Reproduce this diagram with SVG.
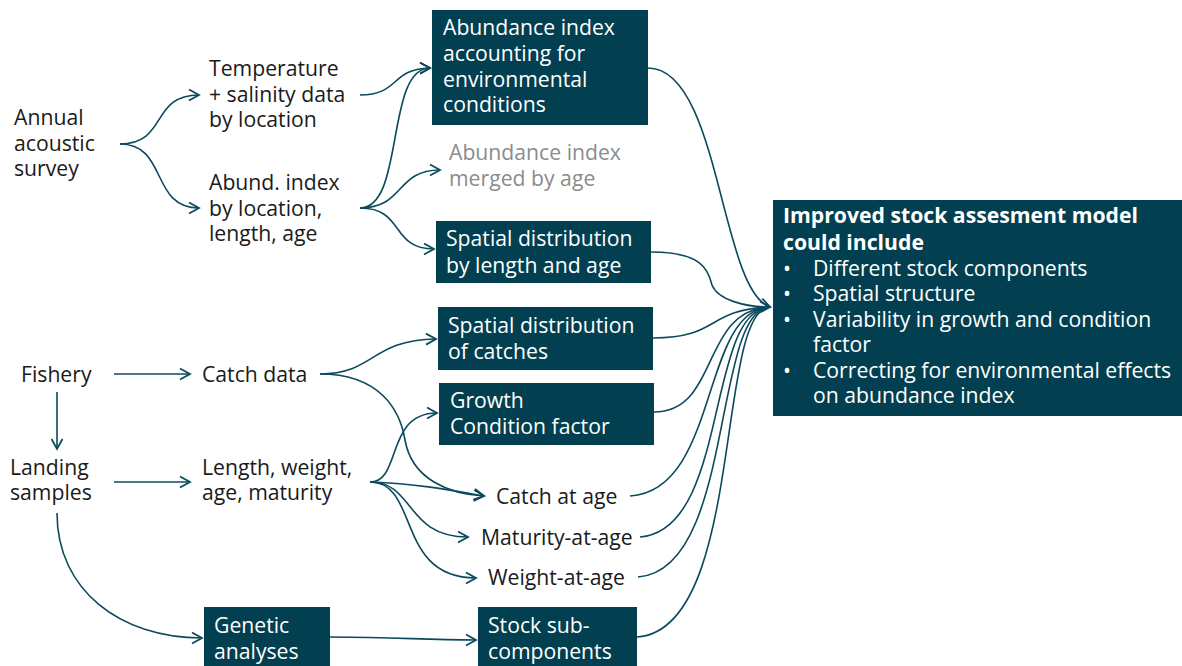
<svg xmlns="http://www.w3.org/2000/svg" width="1182" height="666" viewBox="0 0 1182 666">
<defs>
<style>
text{font-family:"Open Sans","Noto Sans","Liberation Sans",sans-serif;font-size:21.2px;fill:#1a1a1a}
.w{fill:#ffffff}
.g{fill:#8c8c8c}
.b{font-weight:bold}
.box{fill:#023f50}
.c path{fill:none;stroke:#0b4a5c;stroke-width:1.6}
</style>
<marker id="ah" markerUnits="userSpaceOnUse" markerWidth="14" markerHeight="14" refX="11" refY="6" orient="auto" viewBox="0 0 14 12">
<path d="M1,0.5 L11,6 L1,11.5" fill="none" stroke="#0b4a5c" stroke-width="1.8"/>
</marker>
</defs>
<rect width="1182" height="666" fill="#ffffff"/>

<g class="c" id="connectors">
<path d="M120,144 C168,144 150,95 199,95" marker-end="url(#ah)"/>
<path d="M120,144 C168,144 150,208 199,208" marker-end="url(#ah)"/>
<path d="M360,95 C400,95 390,69 430,68" marker-end="url(#ah)"/>
<path d="M360,208 C405,208 385,68 430,68" marker-end="url(#ah)"/>
<path d="M360,208 C405,208 395,170 440,170" marker-end="url(#ah)"/>
<path d="M360,208 C405,208 390,249 434,249" marker-end="url(#ah)"/>
<path d="M114,374 L190,374" marker-end="url(#ah)"/>
<path d="M57,392 L57,449" marker-end="url(#ah)"/>
<path d="M114,482 L190,482" marker-end="url(#ah)"/>
<path d="M57,513 C57,590 120,638 202,638" marker-end="url(#ah)"/>
<path d="M330,637 C400,637 420,640 476,640" marker-end="url(#ah)"/>
<path d="M320,374 C375,374 370,340 436,339" marker-end="url(#ah)"/>
<path d="M320,374 C380,374 400,410 405,440 C412,480 450,494 484,496" marker-end="url(#ah)"/>
<path d="M370,482 C402,482 385,413 437,413" marker-end="url(#ah)"/>
<path d="M370,482 C420,484 450,490 484,496" marker-end="url(#ah)"/>
<path d="M370,482 C415,482 405,537 468,537" marker-end="url(#ah)"/>
<path d="M370,482 C420,482 395,578 476,578" marker-end="url(#ah)"/>
<path d="M648,68 C720,68 720,290 770,307" marker-end="url(#ah)"/>
<path d="M651,252 C700,252 708,268 712,285 C718,300 745,307 770,307" marker-end="url(#ah)"/>
<path d="M653,338 C720,338 705,310 770,307"/>
<path d="M654,412 C720,412 700,310 770,307"/>
<path d="M630,496 C720,490 700,310 770,307"/>
<path d="M640,537 C730,530 705,310 770,307"/>
<path d="M638,577 C735,570 712,310 770,307"/>
<path d="M637,637 C745,630 715,310 770,307"/>
</g>

<g id="annual"><text x="14" y="125">Annual</text><text x="14" y="151">acoustic</text><text x="14" y="176">survey</text></g>
<g id="temperature"><text x="209" y="76">Temperature</text><text x="209" y="102">+ salinity data</text><text x="209" y="127">by location</text></g>
<g id="abund"><text x="209" y="190">Abund. index</text><text x="209" y="216">by location,</text><text x="209" y="241">length, age</text></g>
<g id="abundEnv"><rect class="box" x="432" y="10" width="216" height="115"/><text class="w" x="443" y="35">Abundance index</text><text class="w" x="443" y="61">accounting for</text><text class="w" x="443" y="87">environmental</text><text class="w" x="443" y="112">conditions</text></g>
<g id="abundMerged"><text class="g" x="449" y="160">Abundance index</text><text class="g" x="449" y="186">merged by age</text></g>
<g id="spatialLen"><rect class="box" x="436" y="221" width="215" height="62"/><text class="w" x="446" y="246">Spatial distribution</text><text class="w" x="446" y="273">by length and age</text></g>
<g id="model"><rect class="box" x="773" y="200" width="409" height="216"/>
<text class="w b" x="783" y="223">Improved stock assesment model</text>
<text class="w b" x="783" y="250">could include</text>
<text class="w" x="783" y="276">•</text><text class="w" x="813" y="276">Different stock components</text>
<text class="w" x="783" y="301">•</text><text class="w" x="813" y="301">Spatial structure</text>
<text class="w" x="783" y="327">•</text><text class="w" x="813" y="327">Variability in growth and condition</text>
<text class="w" x="813" y="352">factor</text>
<text class="w" x="783" y="378">•</text><text class="w" x="813" y="378">Correcting for environmental effects</text>
<text class="w" x="813" y="403">on abundance index</text></g>
<g id="fishery"><text x="21" y="382">Fishery</text></g>
<g id="catchData"><text x="202" y="382">Catch data</text></g>
<g id="landing"><text x="10" y="475">Landing</text><text x="10" y="500">samples</text></g>
<g id="lengthWeight"><text x="202" y="475">Length, weight,</text><text x="202" y="500">age, maturity</text></g>
<g id="spatialCatch"><rect class="box" x="438" y="307" width="215" height="63"/><text class="w" x="448" y="333">Spatial distribution</text><text class="w" x="448" y="359">of catches</text></g>
<g id="growth"><rect class="box" x="439" y="383" width="215" height="62"/><text class="w" x="450" y="408">Growth</text><text class="w" x="450" y="434">Condition factor</text></g>
<g id="catchAge"><text x="496" y="504">Catch at age</text></g>
<g id="maturity"><text x="481" y="545">Maturity-at-age</text></g>
<g id="weight"><text x="488" y="585">Weight-at-age</text></g>
<g id="genetic"><rect class="box" x="204" y="607" width="126" height="59"/><text class="w" x="214" y="633">Genetic</text><text class="w" x="214" y="659">analyses</text></g>
<g id="stock"><rect class="box" x="478" y="607" width="159" height="59"/><text class="w" x="488" y="633">Stock sub-</text><text class="w" x="488" y="659">components</text></g>
</svg>
